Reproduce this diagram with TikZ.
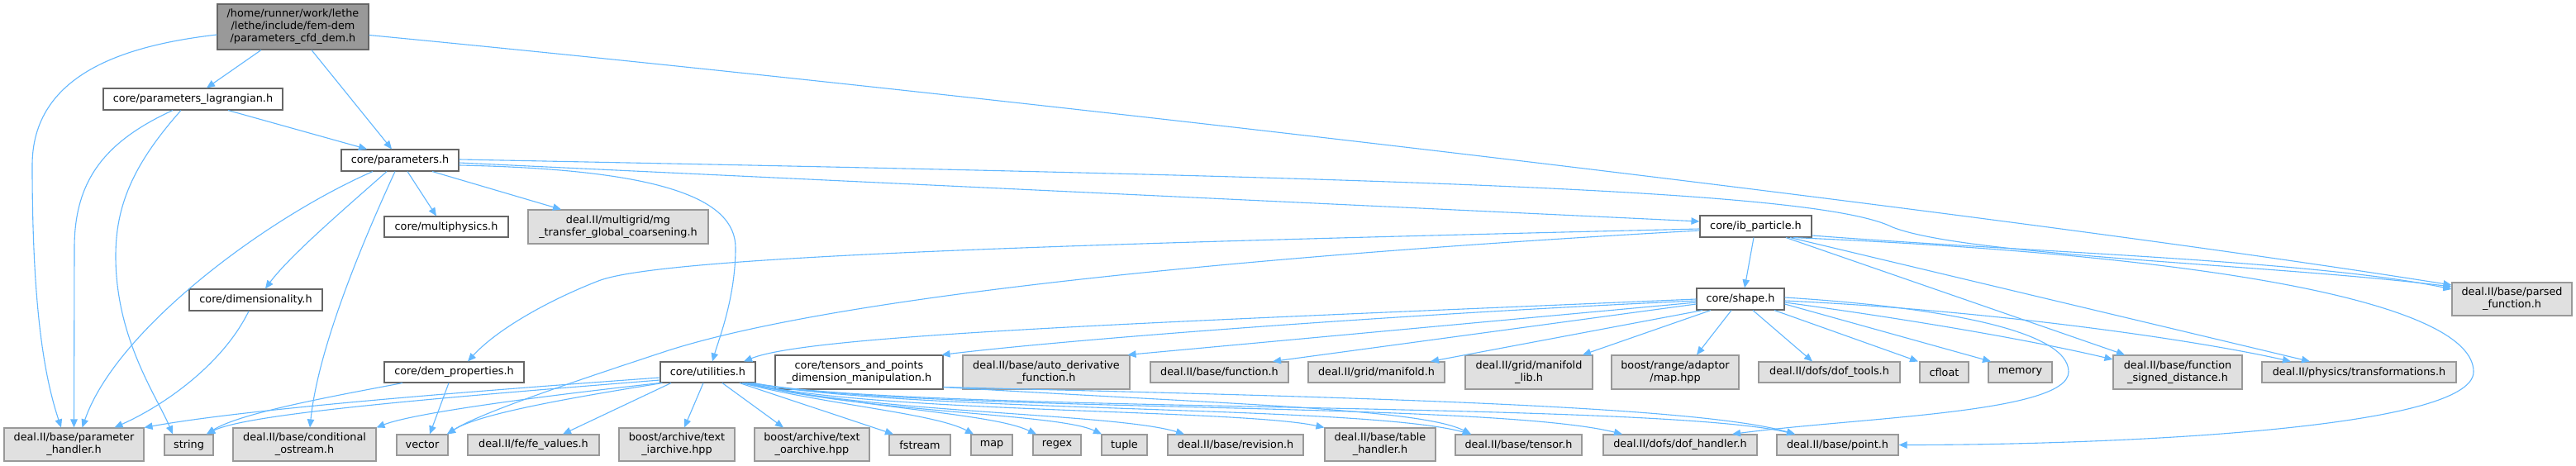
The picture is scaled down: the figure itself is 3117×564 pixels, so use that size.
\documentclass[tikz,border=0pt]{standalone}
\usepackage{fontspec}
\setmainfont{DejaVu Sans}
\usetikzlibrary{arrows.meta}
\definecolor{edgec}{HTML}{63B8FF}
\definecolor{bord}{HTML}{666666}
\definecolor{extb}{HTML}{999999}
\definecolor{extf}{HTML}{E0E0E0}
\definecolor{rootf}{HTML}{999999}
\begin{document}
\begin{tikzpicture}[x=1pt,y=-1pt,
  box/.style={draw=bord, fill=white, line width=1.1pt, inner sep=0pt, align=center,
    font=\fontsize{12.8pt}{15pt}\selectfont},
  ext/.style={box, draw=extb, fill=extf},
  rootbox/.style={box, fill=rootf},
  dep/.style={draw=edgec, line width=1.1pt, -{Triangle[length=10pt,width=8.5pt]}}]
\fill[white] (0,0) rectangle (3117,564);
\useasboundingbox (0,0) rectangle (3117,564);
% nodes
\node[rootbox, minimum width=183pt, minimum height=55pt] (root) at (354.5,32.5) {/home/runner/work/lethe\\/lethe/include/fem-dem\\/parameters\_cfd\_dem.h};
\node[box, minimum width=217pt, minimum height=26pt] (lag) at (233.5,120) {core/parameters\_lagrangian.h};
\node[box, minimum width=142pt, minimum height=26pt] (params) at (484,194) {core/parameters.h};
\node[box, minimum width=150pt, minimum height=25pt] (multi) at (540,274.5) {core/multiphysics.h};
\node[ext, minimum width=218pt, minimum height=41pt] (mg) at (748,274.5) {deal.II/multigrid/mg\\\_transfer\_global\_coarsening.h};
\node[box, minimum width=135pt, minimum height=26pt] (ib) at (2124.5,274) {core/ib\_particle.h};
\node[box, minimum width=161pt, minimum height=26pt] (dim) at (309.5,363) {core/dimensionality.h};
\node[box, minimum width=106pt, minimum height=26pt] (shape) at (2106,362) {core/shape.h};
\node[ext, minimum width=145pt, minimum height=40pt] (parsed) at (3039.5,362) {deal.II/base/parsed\\\_function.h};
\node[box, minimum width=169pt, minimum height=25pt] (dem) at (549.5,450.5) {core/dem\_properties.h};
\node[box, minimum width=115pt, minimum height=25pt] (util) at (856.5,450.5) {core/utilities.h};
\node[box, minimum width=203pt, minimum height=41pt] (tensors) at (1039.5,450.5) {core/tensors\_and\_points\\\_dimension\_manipulation.h};
\node[ext, minimum width=202pt, minimum height=41pt] (autod) at (1266,450.5) {deal.II/base/auto\_derivative\\\_function.h};
\node[ext, minimum width=167pt, minimum height=25pt] (func) at (1475.5,450.5) {deal.II/base/function.h};
\node[ext, minimum width=165pt, minimum height=25pt] (manifold) at (1665.5,450.5) {deal.II/grid/manifold.h};
\node[ext, minimum width=154pt, minimum height=41pt] (mlib) at (1850,450.5) {deal.II/grid/manifold\\\_lib.h};
\node[ext, minimum width=154pt, minimum height=41pt] (rmap) at (2027,450.5) {boost/range/adaptor\\/map.hpp};
\node[ext, minimum width=171pt, minimum height=25pt] (doftools) at (2213.5,450.5) {deal.II/dofs/dof\_tools.h};
\node[ext, minimum width=59pt, minimum height=25pt] (cfloat) at (2352.5,450.5) {cfloat};
\node[ext, minimum width=77pt, minimum height=25pt] (memory) at (2444.5,450.5) {memory};
\node[ext, minimum width=156pt, minimum height=41pt] (fsd) at (2635,450.5) {deal.II/base/function\\\_signed\_distance.h};
\node[ext, minimum width=235pt, minimum height=25pt] (trans) at (2854.5,450.5) {deal.II/physics/transformations.h};
\node[ext, minimum width=169pt, minimum height=40pt] (ph) at (89.5,538) {deal.II/base/parameter\\\_handler.h};
\node[ext, minimum width=59pt, minimum height=25pt] (string) at (228.5,538.5) {string};
\node[ext, minimum width=173pt, minimum height=40pt] (cos) at (368.5,538) {deal.II/base/conditional\\\_ostream.h};
\node[ext, minimum width=62pt, minimum height=25pt] (vector) at (511,538.5) {vector};
\node[ext, minimum width=159pt, minimum height=25pt] (fev) at (645.5,538.5) {deal.II/fe/fe\_values.h};
\node[ext, minimum width=140pt, minimum height=40pt] (iarch) at (819,538) {boost/archive/text\\\_iarchive.hpp};
\node[ext, minimum width=139pt, minimum height=40pt] (oarch) at (982.5,538) {boost/archive/text\\\_oarchive.hpp};
\node[ext, minimum width=74pt, minimum height=25pt] (fstream) at (1113,538.5) {fstream};
\node[ext, minimum width=50pt, minimum height=25pt] (map) at (1200,538.5) {map};
\node[ext, minimum width=58pt, minimum height=25pt] (regex) at (1279,538.5) {regex};
\node[ext, minimum width=55pt, minimum height=25pt] (tuple) at (1360.5,538.5) {tuple};
\node[ext, minimum width=164pt, minimum height=25pt] (revision) at (1495,538.5) {deal.II/base/revision.h};
\node[ext, minimum width=134pt, minimum height=40pt] (table) at (1670,538) {deal.II/base/table\\\_handler.h};
\node[ext, minimum width=153pt, minimum height=25pt] (tensor) at (1837.5,538.5) {deal.II/base/tensor.h};
\node[ext, minimum width=186pt, minimum height=25pt] (dofh) at (2033,538.5) {deal.II/dofs/dof\_handler.h};
\node[ext, minimum width=147pt, minimum height=25pt] (point) at (2223.5,538.5) {deal.II/base/point.h};
% root
\draw[dep] ([xshift=-38.5pt]root.south) -- ([xshift=16.5pt]lag.north);
\draw[dep] ([xshift=22.5pt]root.south) -- ([xshift=-10pt]params.north);
\draw[dep] ([yshift=-9.5pt]root.west) .. controls (150,55) and (39,90) .. (39,200) .. controls (39,380) and (55,460) .. ([xshift=-15.5pt]ph.north);
\draw[dep] ([yshift=-10pt]root.east) .. controls (1200,115) and (2400,255) .. ([yshift=17pt]parsed.west);
% lagrangian
\draw[dep] ([xshift=-24.5pt]lag.south) .. controls (125,172) and (90,220) .. (90,300) -- (ph.north);
\draw[dep] ([xshift=-14.5pt]lag.south) .. controls (160,200) and (140,250) .. (140,310) .. controls (140,410) and (190,480) .. ([xshift=-19.5pt]string.north);
\draw[dep] ([xshift=42.5pt]lag.south) -- ([xshift=-40pt]params.north);
% parameters
\draw[dep] ([xshift=-33pt]params.south) .. controls (320,265) and (140,400) .. ([xshift=10pt]ph.north);
\draw[dep] ([xshift=-16pt]params.south) .. controls (420,250) and (350,310) .. ([xshift=11.5pt]dim.north);
\draw[dep] ([xshift=-6pt]params.south) .. controls (440,290) and (385,420) .. ([xshift=6.5pt]cos.north);
\draw[dep] ([xshift=9pt]params.south) -- ([xshift=-12pt]multi.north);
\draw[dep] ([xshift=39pt]params.south) -- ([xshift=-69pt]mg.north);
\draw[dep] ([yshift=-3pt]params.east) -- ([yshift=6pt]ib.west);
\draw[dep] ([yshift=1pt]params.east) .. controls (1700,215) and (2200,230) .. (2290,275) .. controls (2380,310) and (2750,320) .. ([yshift=15pt]parsed.west);
\draw[dep] ([yshift=-6pt]params.east) .. controls (800,205) and (890,240) .. (890,300) .. controls (890,360) and (870,410) .. ([xshift=5.5pt]util.north);
% dimensionality
\draw[dep] ([xshift=-8.5pt]dim.south) .. controls (270,440) and (200,490) .. ([xshift=-36pt]ph.north east);
% ib_particle
\draw[dep] ([xshift=-2.5pt]ib.south) -- ([xshift=5pt]shape.north);
\draw[dep] ([yshift=-3pt]ib.west) .. controls (1300,295) and (800,310) .. (724,340) .. controls (660,365) and (600,400) .. ([xshift=16.5pt]dem.north);
\draw[dep] ([yshift=-5pt]ib.west) .. controls (1500,310) and (1000,360) .. (800,427) .. controls (700,460) and (580,500) .. ([xshift=30pt]vector.north);
\draw[dep] ([yshift=-11pt]ib.east) .. controls (2450,305) and (2800,315) .. ([yshift=12pt]parsed.west);
\draw[dep] ([xshift=45.5pt]ib.south) .. controls (2700,310) and (2993,370) .. (2993,450) .. controls (2993,520) and (2550,538.5) .. (point.east);
\draw[dep] ([xshift=36.5pt]ib.south) -- ([xshift=-64pt]fsd.north);
\draw[dep] ([xshift=41.5pt]ib.south) -- ([xshift=-59.5pt]trans.north);
% shape
\draw[dep] (shape.west) .. controls (1400,390) and (980,405) .. ([xshift=43.5pt]util.north);
\draw[dep] ([yshift=-2pt]shape.west) .. controls (1700,380) and (1300,410) .. ([xshift=-2pt]tensors.north east);
\draw[dep] ([yshift=-4pt]shape.west) -- ([xshift=-3pt]autod.north east);
\draw[dep] ([yshift=-6pt]shape.west) -- ([xshift=64.5pt]func.north);
\draw[dep] ([xshift=-46pt]shape.south) -- ([xshift=65.5pt]manifold.north);
\draw[dep] ([xshift=-36pt]shape.south) -- ([xshift=65pt]mlib.north);
\draw[dep] ([xshift=-11pt]shape.south) -- ([xshift=26pt]rmap.north);
\draw[dep] ([xshift=15pt]shape.south) -- ([xshift=-20.5pt]doftools.north);
\draw[dep] ([xshift=41pt]shape.south) -- ([xshift=-31.5pt]cfloat.north);
\draw[dep] ([yshift=-6pt]shape.east) -- ([xshift=-35.5pt]memory.north);
\draw[dep] ([yshift=-4pt]shape.east) .. controls (2300,385) and (2450,410) .. ([yshift=15.5pt]fsd.west);
\draw[dep] ([yshift=-2pt]shape.east) .. controls (2400,375) and (2650,410) .. ([xshift=-82.5pt]trans.north);
\draw[dep] ([yshift=2pt]shape.east) .. controls (2350,372) and (2503,400) .. (2503,450) .. controls (2503,500) and (2250,505) .. ([xshift=63pt]dofh.north);
% utilities
\draw[dep] ([yshift=-6.5pt]util.west) .. controls (550,475) and (300,495) .. (ph.north east);
\draw[dep] ([yshift=-9.5pt]util.west) .. controls (550,480) and (300,500) .. ([xshift=21.5pt]string.north);
\draw[dep] (util.south west) .. controls (650,480) and (500,500) .. (cos.north east);
\draw[dep] ([xshift=3pt]util.south west) .. controls (700,480) and (580,500) .. ([xshift=30pt]vector.north);
\draw[dep] ([xshift=-44.5pt]util.south) -- ([xshift=35.5pt]fev.north);
\draw[dep] ([xshift=-5.5pt]util.south) -- ([xshift=9pt]iarch.north);
\draw[dep] ([xshift=17.5pt]util.south) -- ([xshift=-34.5pt]oarch.north);
\draw[dep] ([xshift=38.5pt]util.south) -- ([xshift=-32pt]fstream.north);
\draw[dep] ([xshift=41.5pt]util.south) .. controls (1000,490) and (1130,500) .. ([xshift=-22pt]map.north);
\draw[dep] ([xshift=43.5pt]util.south) .. controls (1050,495) and (1200,500) .. ([xshift=-25pt]regex.north);
\draw[dep] ([xshift=45.5pt]util.south) .. controls (1050,500) and (1280,500) .. ([xshift=-27.5pt]tuple.north);
\draw[dep] ([xshift=47.5pt]util.south) .. controls (1050,500) and (1350,500) .. ([xshift=-62pt]revision.north);
\draw[dep] ([xshift=49.5pt]util.south) .. controls (1050,500) and (1500,495) .. (table.north west);
\draw[dep] ([xshift=51.5pt]util.south) .. controls (1100,500) and (1650,490) .. ([xshift=-57.5pt]tensor.north);
\draw[dep] ([xshift=53.5pt]util.south) .. controls (1100,500) and (1800,485) .. ([xshift=-70pt]dofh.north);
\draw[dep] ([xshift=55.5pt]util.south) .. controls (1100,500) and (2000,485) .. ([xshift=-51.5pt]point.north);
% tensors
\draw[dep] ([yshift=-18pt]tensors.east) .. controls (1500,490) and (1720,495) .. ([xshift=-57.5pt]tensor.north);
\draw[dep] ([yshift=-18pt]tensors.east) .. controls (1600,480) and (2050,490) .. ([xshift=-51.5pt]point.north);
% dem_properties
\draw[dep] ([xshift=-62.5pt]dem.south) .. controls (400,480) and (290,500) .. ([xshift=21.5pt]string.north);
\draw[dep] ([xshift=-6.5pt]dem.south) -- ([xshift=9pt]vector.north);
\end{tikzpicture}
\end{document}
